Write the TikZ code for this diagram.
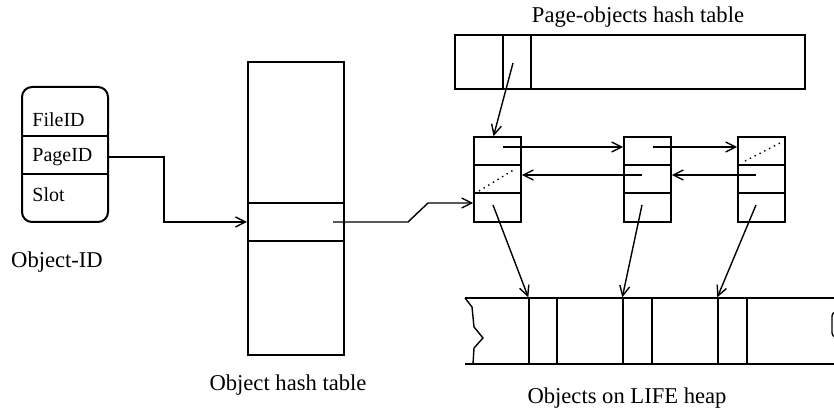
\documentclass[tikz,border=0pt]{standalone}
\usepackage{fontspec}
\setmainfont{Liberation Serif}
\usetikzlibrary{arrows.meta,positioning}

\begin{document}
\begin{tikzpicture}[x=0.5pt,y=-0.5pt,
  box/.style={draw,line width=1pt,inner sep=0pt},
  cell/.style={draw,line width=0.8pt,inner sep=0pt,minimum width=23.5pt,minimum height=42.5pt},
  objcell/.style={draw,line width=0.7pt,inner sep=0pt,minimum height=33pt},
  arr/.style={-{Straight Barb[length=5pt,width=5pt]},line width=0.7pt},
  lbl/.style={font=\fontsize{10}{12}\selectfont,inner sep=1pt},
  caption/.style={font=\fontsize{11.3}{13}\selectfont,inner sep=1pt},
  sep/.style={line width=0.7pt}
]
\useasboundingbox (0,0) rectangle (834,410);

% Object-ID
\node[box,rounded corners=5pt,minimum width=43pt,minimum height=67.5pt] (oid) at (65,154.5) {};
\node[lbl,anchor=west] (fid) at (30,120) {FileID};
\node[lbl,anchor=west] (pid) at (30,157) {PageID};
\node[lbl,anchor=west] (slt) at (30,195) {Slot};
\draw[sep] (oid.west |- 0,136) -- (oid.east |- 0,136);
\draw[sep] (oid.west |- 0,174) -- (oid.east |- 0,174);
\node[caption] (oidlbl) at (57,262) {Object-ID};

% object hash table
\node[box,minimum width=48pt,minimum height=146.5pt] (oht) at (296,208.5) {};
\draw[sep] (oht.west |- 0,203) -- (oht.east |- 0,203);
\draw[sep] (oht.west |- 0,241) -- (oht.east |- 0,241);
\coordinate (oht-out) at (333,222);
\node[caption] (ohtlbl) at (288,385) {Object hash table};
\draw[arr] (pid -| oid.east) -- ++(55,0) |- (oht.west |- oht-out);

% page-objects hash table
\node[caption] (pohlbl) at (638,17) {Page-objects hash table};
\node[box,minimum width=175pt,minimum height=27pt] (poh) at (630,62) {};
\draw[sep] (503,0 |- poh.north) -- (503,0 |- poh.south);
\draw[sep] (531,0 |- poh.north) -- (531,0 |- poh.south);
\coordinate (poh-in) at (513,63);

% page-object chain
\node[cell] (n1) at (497.5,179.5) {};
\node[cell] (n2) at (647.5,179.5) {};
\node[cell] (n3) at (761.5,179.5) {};
\draw[sep] (n1.west |- 0,165) -- (n1.east |- 0,165);
\draw[sep] (n1.west |- 0,193) -- (n1.east |- 0,193);
\draw[sep] (n2.west |- 0,165) -- (n2.east |- 0,165);
\draw[sep] (n2.west |- 0,193) -- (n2.east |- 0,193);
\draw[sep] (n3.west |- 0,165) -- (n3.east |- 0,165);
\draw[sep] (n3.west |- 0,193) -- (n3.east |- 0,193);
\draw[sep,dotted] (479,191) -- (515,169);
\draw[sep,dotted] (745,161) -- (782,142);

\coordinate (n1-nxt) at (503,147);
\coordinate (n2-nxt) at (653,147);
\coordinate (n2-prv) at (642,175);
\coordinate (n3-prv) at (756,175);
\coordinate (n1-obj) at (493,205);
\coordinate (n2-obj) at (642,205);
\coordinate (n3-obj) at (756,205);

\draw[arr] (poh-in) -- ([xshift=-2pt]n1.north);
\draw[arr] (oht-out) -- ++(75,0) -- ++(20,-19) -- (n1.west |- 0,203);
\draw[arr] (n1-nxt) -- (n2.west |- n1-nxt);
\draw[arr] (n2-nxt) -- (n3.west |- n2-nxt);
\draw[arr] (n2-prv) -- (n1.east |- n2-prv);
\draw[arr] (n3-prv) -- (n2.east |- n3-prv);

% LIFE heap
\draw[line width=1pt] (465,298) -- (834,298);
\draw[line width=1pt] (465,364) -- (834,364);
\draw[line width=0.7pt] (465,298) -- (472,307) -- (474,327) -- (483,338) -- (474,348) -- (473,364);
\node[objcell,minimum width=14pt] (obj1) at (543,331) {};
\node[objcell,minimum width=14.5pt] (obj2) at (637.5,331) {};
\node[objcell,minimum width=14.5pt] (obj3) at (732.5,331) {};
\draw[line width=0.7pt,rounded corners=2pt] (850,312) -- (832,312) -- (832,337) -- (850,337);
\node[caption] (heaplbl) at (627,398) {Objects on LIFE heap};

\draw[arr] (n1-obj) -- (obj1.north west);
\draw[arr] (n2-obj) -- (obj2.north west);
\draw[arr] (n3-obj) -- (obj3.north west);
\end{tikzpicture}
\end{document}
